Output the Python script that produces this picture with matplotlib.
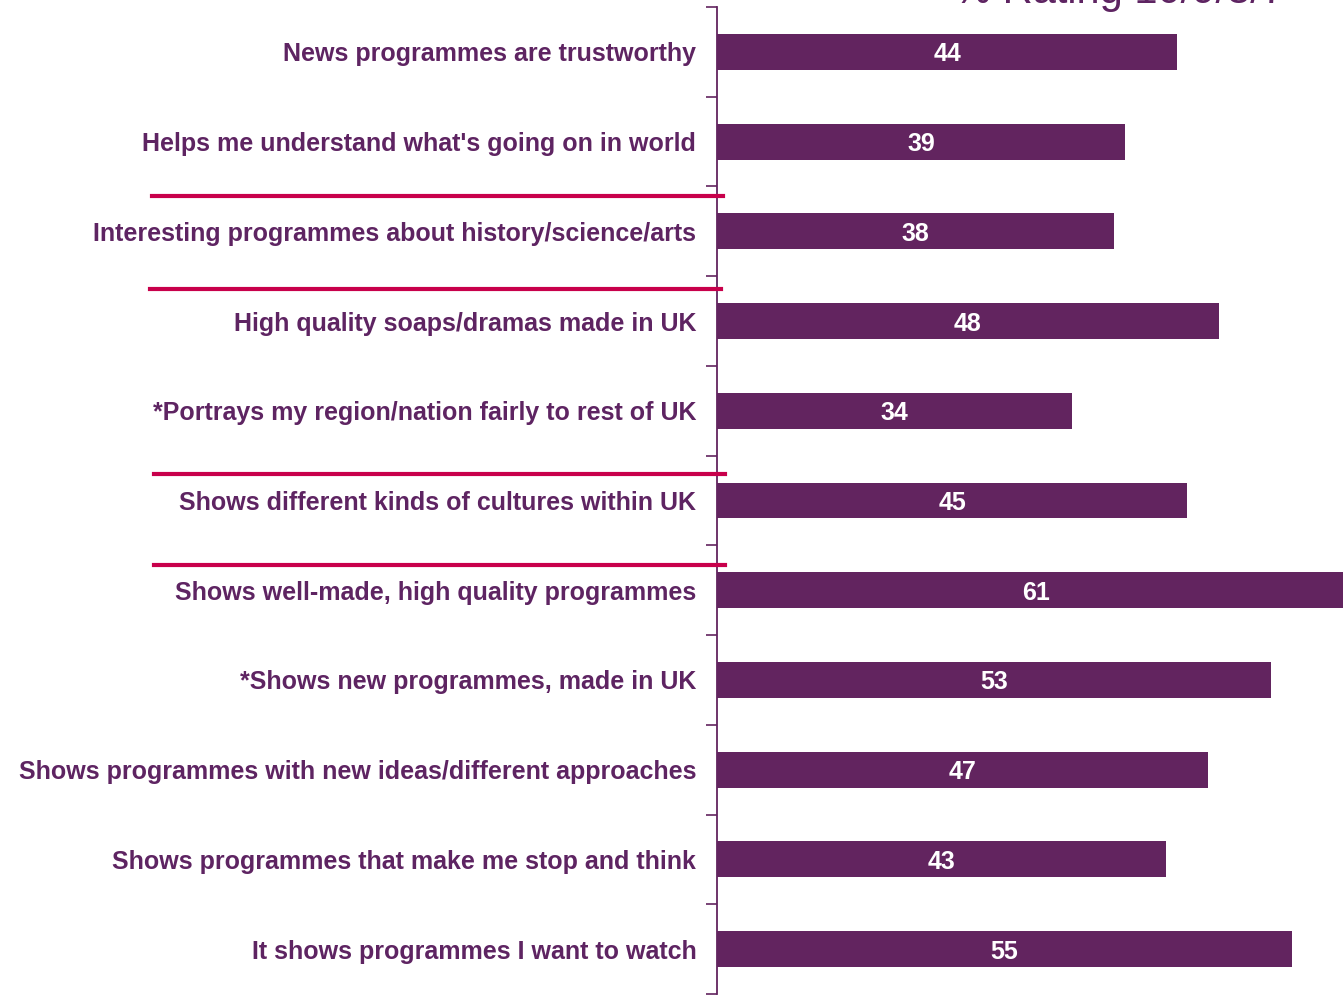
import matplotlib.pyplot as plt
import numpy as np

plt.rcParams["font.family"] = ["Liberation Sans", "DejaVu Sans"]

statements = [
    "News programmes are trustworthy",
    "Helps me understand what's going on in world",
    "Interesting programmes about history/science/arts",
    "High quality soaps/dramas made in UK",
    "*Portrays my region/nation fairly to rest of UK",
    "Shows different kinds of cultures within UK",
    "Shows well-made, high quality programmes",
    "*Shows new programmes, made in UK",
    "Shows programmes with new ideas/different approaches",
    "Shows programmes that make me stop and think",
    "It shows programmes I want to watch",
]
ratings = [44, 39, 38, 48, 34, 45, 61, 53, 47, 43, 55]

# red rules between statement groups: (row position, left x, right x in figure fraction)
separators = [(1.61, 0.113, 0.538), (2.64, 0.112, 0.537), (4.71, 0.115, 0.540), (5.72, 0.115, 0.540)]

purple = "#62245F"
text_purple = "#5E2462"
red = "#C8004B"

fig = plt.figure(figsize=(13.43, 9.96), dpi=100)
ax = fig.add_axes([0.534, 0.002, 0.466, 0.991])

n = len(statements)
y = np.arange(n)
ax.barh(y, ratings, height=0.4, color=purple)
for yi, v in zip(y, ratings):
    ax.text(v / 2, yi, str(v), color="white", fontsize=18, fontweight="bold",
            ha="center", va="center_baseline")

ax.set_ylim(n - 0.5, -0.5)
ax.set_xlim(0, 59.9)
ax.set_yticks(y)
ax.set_yticklabels(statements, fontsize=18, fontweight="bold", color=text_purple)
ax.tick_params(axis="y", which="major", length=0, pad=15)
ax.set_yticks(np.arange(n + 1) - 0.5, minor=True)
ax.tick_params(axis="y", which="minor", length=8, color=purple, width=1.2)
ax.set_xticks([])
for side in ["top", "right", "bottom"]:
    ax.spines[side].set_visible(False)
ax.spines["left"].set_color(purple)
ax.spines["left"].set_linewidth(1.3)

for pos, x0, x1 in separators:
    yd = ax.transData.transform((0, pos))[1]
    yf = fig.transFigure.inverted().transform((0, yd))[1]
    fig.add_artist(plt.Line2D([x0, x1], [yf, yf], color=red, lw=3))

fig.text(0.957, 0.997, "% Rating 10/9/8/7", color=text_purple, fontsize=30,
         ha="right", va="baseline")

fig.savefig("out.png", dpi=100)
